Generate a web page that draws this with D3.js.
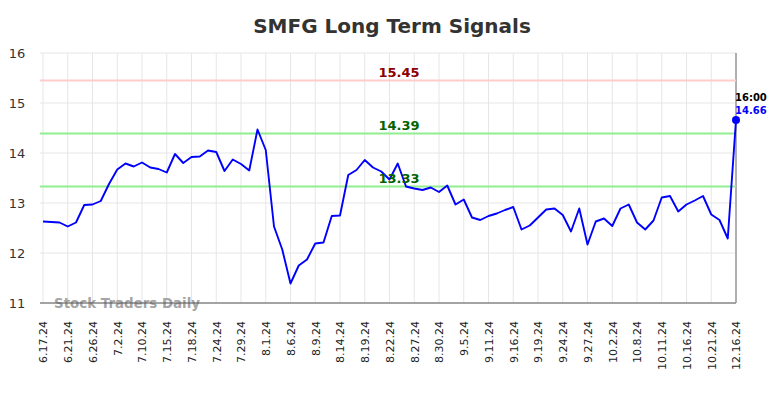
<!DOCTYPE html>
<html>
<head>
<meta charset="utf-8">
<script src="https://cdn.jsdelivr.net/npm/d3@7"></script>
<style>
  body { margin: 0; background: #fff; overflow: hidden; }
  svg { display: block; font-family: "DejaVu Sans", sans-serif; }
</style>
</head>
<body>
<div id="chart"></div>
<script>
const title = 'SMFG Long Term Signals';

const tickLabels = ['6.17.24', '6.21.24', '6.26.24', '7.2.24', '7.10.24', '7.15.24', '7.18.24', '7.24.24',
  '7.29.24', '8.1.24', '8.6.24', '8.9.24', '8.14.24', '8.19.24', '8.22.24', '8.27.24', '8.30.24',
  '9.5.24', '9.11.24', '9.16.24', '9.19.24', '9.24.24', '9.27.24', '10.2.24', '10.8.24', '10.11.24',
  '10.16.24', '10.21.24', '12.16.24'];

const prices = [
  12.63, 12.62, 12.61, 12.53, 12.61, 12.96, 12.97, 13.04, 13.38, 13.67,
  13.79, 13.73, 13.81, 13.71, 13.68, 13.61, 13.98, 13.80, 13.92, 13.93,
  14.05, 14.02, 13.64, 13.87, 13.78, 13.65, 14.47, 14.06, 12.53, 12.07,
  11.39, 11.75, 11.87, 12.19, 12.21, 12.74, 12.75, 13.56, 13.66, 13.86,
  13.71, 13.63, 13.47, 13.79, 13.33, 13.29, 13.26, 13.31, 13.22, 13.35,
  12.97, 13.07, 12.71, 12.66, 12.74, 12.79, 12.86, 12.92, 12.47, 12.55,
  12.71, 12.87, 12.89, 12.76, 12.43, 12.89, 12.17, 12.63, 12.69, 12.54,
  12.89, 12.97, 12.61, 12.47, 12.65, 13.11, 13.14, 12.83, 12.97, 13.05,
  13.14, 12.77, 12.66, 12.29, 14.66
];

const signalValues = [15.45, 14.39, 13.33];
const signalColors = ['#ffcccc', '#90ee90', '#90ee90'];
const signalTextColors = ['#8b0000', '#006400', '#006400'];
const yTicks = [11, 12, 13, 14, 15, 16];
const lastTime = '16:00';

const width = 784, height = 398;
const margin = { top: 53, right: 48, bottom: 95, left: 40 };
const innerWidth = width - margin.left - margin.right;
const innerHeight = height - margin.top - margin.bottom;

const svg = d3.select('#chart')
  .append('svg')
  .attr('width', width)
  .attr('height', height);

svg.append('text')
  .attr('x', 392)
  .attr('y', 33)
  .attr('text-anchor', 'middle')
  .attr('font-size', 20)
  .attr('font-weight', 'bold')
  .attr('fill', '#333')
  .text(title);

const g = svg.append('g')
  .attr('transform', `translate(${margin.left},${margin.top})`);

// index based x, 3 points per labelled tick
const x = d3.scaleLinear()
  .domain([0, prices.length - 1])
  .range([3, 696]);

const y = d3.scaleLinear()
  .domain([11, 16])
  .range([innerHeight, 0]);

const tickIdx = tickLabels.map((d, i) => i * 3);

// Grid
g.selectAll('.hgrid')
  .data(yTicks)
  .enter()
  .append('line')
  .attr('x1', 0)
  .attr('x2', innerWidth)
  .attr('y1', d => y(d))
  .attr('y2', d => y(d))
  .attr('stroke', '#e6e6e6')
  .attr('stroke-width', 1);

g.selectAll('.vgrid')
  .data(tickIdx)
  .enter()
  .append('line')
  .attr('x1', d => x(d))
  .attr('x2', d => x(d))
  .attr('y1', 0)
  .attr('y2', innerHeight)
  .attr('stroke', '#e6e6e6')
  .attr('stroke-width', 1);

// Y labels
g.selectAll('.ylab')
  .data(yTicks)
  .enter()
  .append('text')
  .attr('x', -23)
  .attr('y', d => y(d) + 5)
  .attr('text-anchor', 'middle')
  .attr('font-size', 13)
  .attr('fill', '#333')
  .text(d => d);

// X axis
const xAxis = g.append('g')
  .attr('transform', `translate(0,${innerHeight})`)
  .call(d3.axisBottom(x).tickValues(tickIdx).tickSize(0).tickFormat((d, i) => tickLabels[i]));

xAxis.select('.domain').remove();
xAxis.selectAll('text')
  .attr('transform', 'rotate(-90)')
  .attr('text-anchor', 'end')
  .attr('x', -18)
  .attr('y', 0)
  .attr('dy', '0.35em')
  .attr('font-size', 11)
  .attr('font-family', '"DejaVu Sans", sans-serif')
  .attr('fill', '#222');

// Watermark
g.append('text')
  .attr('x', 14)
  .attr('y', innerHeight + 5)
  .attr('font-size', 13.4)
  .attr('font-weight', 'bold')
  .attr('fill', '#999')
  .attr('fill-opacity', 0.9)
  .text('Stock Traders Daily');

// bottom axis line
g.append('line')
  .attr('x1', 0)
  .attr('x2', innerWidth)
  .attr('y1', innerHeight)
  .attr('y2', innerHeight)
  .attr('stroke', '#555')
  .attr('stroke-width', 1);

// Last point vertical line
g.append('line')
  .attr('x1', x(prices.length - 1))
  .attr('x2', x(prices.length - 1))
  .attr('y1', 0)
  .attr('y2', innerHeight)
  .attr('stroke', '#999')
  .attr('stroke-width', 1.5);

// Signal lines
g.selectAll('.signal')
  .data(signalValues)
  .enter()
  .append('line')
  .attr('x1', 0)
  .attr('x2', innerWidth)
  .attr('y1', d => y(d))
  .attr('y2', d => y(d))
  .attr('stroke', (d, i) => signalColors[i])
  .attr('stroke-width', 2);

// Price line
const line = d3.line()
  .x((d, i) => x(i))
  .y(d => y(d));

g.append('path')
  .datum(prices)
  .attr('fill', 'none')
  .attr('stroke', '#0000ff')
  .attr('stroke-width', 1.9)
  .attr('stroke-linejoin', 'round')
  .attr('d', line);

// Signal labels
g.selectAll('.signal-label')
  .data(signalValues)
  .enter()
  .append('text')
  .attr('x', 359)
  .attr('y', d => y(d) - 4)
  .attr('text-anchor', 'middle')
  .attr('font-size', 13)
  .attr('font-weight', 'bold')
  .attr('fill', (d, i) => signalTextColors[i])
  .text(d => d.toFixed(2));

// Last point
const lastI = prices.length - 1;
const lastV = prices[lastI];

g.append('circle')
  .attr('cx', x(lastI))
  .attr('cy', y(lastV))
  .attr('r', 4)
  .attr('fill', '#0000ff');

g.append('text')
  .attr('x', x(lastI) - 1)
  .attr('y', y(lastV) - 19)
  .attr('font-size', 10)
  .attr('font-weight', 'bold')
  .attr('fill', '#000')
  .text(lastTime);

g.append('text')
  .attr('x', x(lastI) - 1)
  .attr('y', y(lastV) - 6)
  .attr('font-size', 10)
  .attr('font-weight', 'bold')
  .attr('fill', '#0000ff')
  .text(lastV.toFixed(2));
</script>
</body>
</html>
